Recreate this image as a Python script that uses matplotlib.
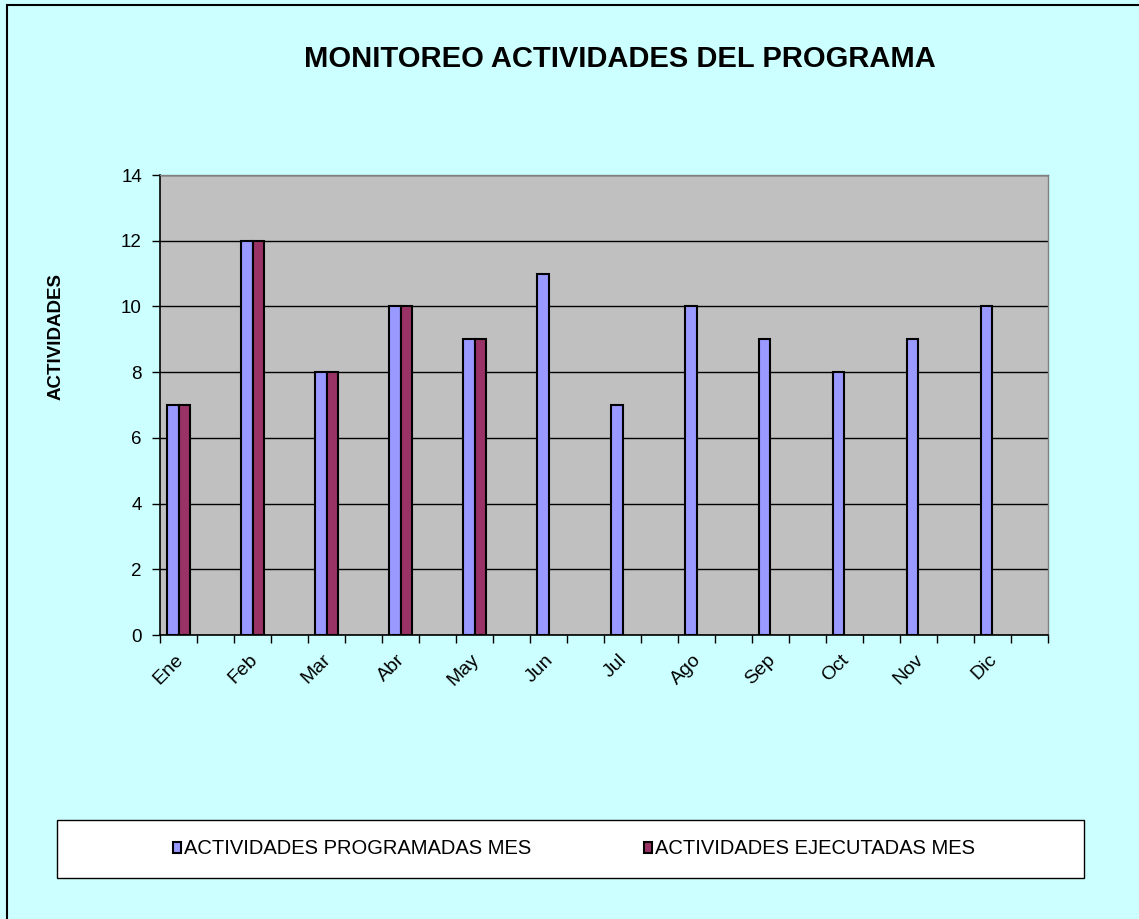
import matplotlib
matplotlib.use("Agg")
import matplotlib.pyplot as plt
import matplotlib.transforms as mtransforms
from matplotlib.patches import Rectangle
import numpy as np

months = ["Ene", "Feb", "Mar", "Abr", "May", "Jun", "Jul", "Ago", "Sep", "Oct", "Nov", "Dic"]
programadas = [7, 12, 8, 10, 9, 11, 7, 10, 9, 8, 9, 10]
ejecutadas = [7, 12, 8, 10, 9, None, None, None, None, None, None, None]
series_names = ["ACTIVIDADES PROGRAMADAS MES", "ACTIVIDADES EJECUTADAS MES"]
title = "MONITOREO ACTIVIDADES DEL PROGRAMA"
ylabel = "ACTIVIDADES"
yticks = [0, 2, 4, 6, 8, 10, 12, 14]

plt.rcParams['font.family'] = ['Liberation Sans', 'DejaVu Sans']

W, H = 1139, 919
fig = plt.figure(figsize=(W / 100, H / 100), dpi=100)
fig.patch.set_facecolor('#CCFFFF')

# outer border
fig.add_artist(Rectangle((7 / W, -0.01), 1.2, 1 - 5 / H + 0.01, transform=fig.transFigure,
                         fill=False, edgecolor='black', linewidth=1.5))

ax = fig.add_axes([160 / W, 1 - 635 / H, (1048 - 160) / W, (635 - 175) / H])
ax.set_facecolor('#C0C0C0')

n = len(months)
# each month occupies two category slots (month + empty slot)
centers = np.arange(n) * 2 + 0.5
bw = 0.31
prog = np.array(programadas, dtype=float)
ejec = np.array([np.nan if v is None else v for v in ejecutadas], dtype=float)

ax.bar(centers - bw / 2, prog, width=bw, color='#9999FF', edgecolor='black', linewidth=1.5,
       label=series_names[0], zorder=3)
ax.bar(centers + bw / 2, ejec, width=bw, color='#993366', edgecolor='black', linewidth=1.5,
       label=series_names[1], zorder=3)

ax.set_xlim(0, 2 * n)
ax.set_ylim(0, 14)
ax.set_yticks(yticks)
ax.yaxis.grid(True, color='black', linewidth=1, zorder=1)
ax.set_axisbelow(True)

ax.set_xticks(np.arange(0, 2 * n + 1))
ax.set_xticklabels([])
ax.set_xticks(centers, minor=True)
ax.set_xticklabels(months, minor=True, rotation=45, ha='right', va='center',
                   rotation_mode='anchor', fontsize=14)
ax.tick_params(axis='x', which='minor', length=0, pad=16)
ax.tick_params(axis='x', which='major', length=6, width=1, direction='out')
ax.tick_params(axis='y', length=6, width=1, direction='out', labelsize=13.5, pad=7)
offset = mtransforms.ScaledTranslation(0.02, 0, fig.dpi_scale_trans)
for lab in ax.xaxis.get_minorticklabels():
    lab.set_transform(lab.get_transform() + offset)

for s in ['left', 'bottom']:
    ax.spines[s].set_color('black')
    ax.spines[s].set_linewidth(1.2)
for s in ['top', 'right']:
    ax.spines[s].set_color('#808080')
    ax.spines[s].set_linewidth(1)

ax.set_ylabel(ylabel, fontsize=13.5, fontweight='bold')
ax.yaxis.set_label_coords((65 - 160) / 888, (635 - 337) / 460)

fig.text(620 / W, 1 - 59 / H, title, fontsize=21, fontweight='bold', ha='center', va='center')

# legend box
fig.add_artist(Rectangle((57 / W, 1 - 878 / H), (1084 - 57) / W, (878 - 820) / H,
                         transform=fig.transFigure, facecolor='white', edgecolor='black',
                         linewidth=1, zorder=1))
handles, labels = ax.get_legend_handles_labels()
leg = fig.legend(handles, labels, loc='center', bbox_to_anchor=(574 / W, 1 - 849 / H),
                 ncol=2, frameon=False, fontsize=14.5, handlelength=0.4, handleheight=0.5,
                 handletextpad=0.15, columnspacing=5.6)
leg.set_zorder(2)

fig.savefig('out.png', dpi=100, facecolor=fig.get_facecolor())
